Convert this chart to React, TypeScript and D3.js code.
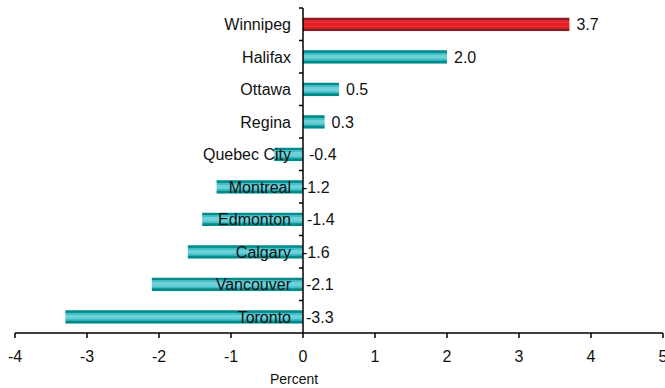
import React from "react";
import * as d3 from "d3";

// Cities, top to bottom, and their percent change
const cities = [
  "Winnipeg",
  "Halifax",
  "Ottawa",
  "Regina",
  "Quebec City",
  "Montreal",
  "Edmonton",
  "Calgary",
  "Vancouver",
  "Toronto",
];
const values = [3.7, 2.0, 0.5, 0.3, -0.4, -1.2, -1.4, -1.6, -2.1, -3.3];
const highlighted = ["Winnipeg"];
const xTicks = [-4, -3, -2, -1, 0, 1, 2, 3, 4, 5];

const W = 665;
const H = 388;
const FONT = "'Liberation Sans', Arial, sans-serif";

// horizontal shift of value labels for the negative bars (px from the zero line)
const negLabelShift: Record<string, number> = {
  "Quebec City": 6,
  Montreal: -1,
  Edmonton: 4,
  Calgary: -1,
  Vancouver: 3,
  Toronto: 3,
};

const teal = ["#008b8b", "#3fbfc6", "#6fd0d8", "#3fbfc6", "#008b8b"];
const red = ["#8e1a1f", "#e41c24", "#ee1c25", "#e41c24", "#8e1a1f"];
// stripe boundaries as fractions of bar height
const stripeStops = [0, 0.2, 0.36, 0.65, 0.8, 1];

const fmt = (v: number) => v.toFixed(1);

export default function App() {
  const x = d3.scaleLinear().domain([-4, 5]).range([15, 663]);
  const y = d3.scaleBand<string>().domain(cities).range([8, 333]).padding(0);
  const step = y.step();
  const barH = step * 0.4;
  const x0 = x(0);
  const axisY = 333;

  return (
    <svg
      width={W}
      height={H}
      style={{ position: "absolute", left: 0, top: 0, background: "#fff" }}
      fontFamily={FONT}
    >
      {/* bars */}
      {cities.map((c, i) => {
        const v = values[i];
        const cy = (y(c) as number) + step / 2;
        const top = cy - barH / 2;
        const left = Math.min(x(v), x0);
        const w = Math.abs(x(v) - x0);
        const cols = highlighted.includes(c) ? red : teal;
        return (
          <g key={c}>
            {cols.map((col, k) => (
              <rect
                key={k}
                x={left}
                y={top + stripeStops[k] * barH}
                width={w}
                height={(stripeStops[k + 1] - stripeStops[k]) * barH + 0.3}
                fill={col}
              />
            ))}
          </g>
        );
      })}

      {/* category labels */}
      {cities.map((c) => {
        const cy = (y(c) as number) + step / 2;
        return (
          <text
            key={c}
            x={x0 - 12}
            y={cy}
            dy="0.36em"
            textAnchor="end"
            fontSize={16}
            fill="#111"
          >
            {c}
          </text>
        );
      })}

      {/* value labels */}
      {cities.map((c, i) => {
        const v = values[i];
        const cy = (y(c) as number) + step / 2;
        const lx = v >= 0 ? x(v) + 7 : x0 + (negLabelShift[c] ?? 4);
        return (
          <text key={c} x={lx} y={cy} dy="0.36em" fontSize={16} fill="#111">
            {fmt(v)}
          </text>
        );
      })}

      {/* vertical axis at zero */}
      <line x1={x0} x2={x0} y1={8} y2={axisY} stroke="#000" strokeWidth={1.5} />
      {d3.range(cities.length).map((i) => {
        const ty = 8 + i * step;
        return (
          <line key={i} x1={x0 - 4} x2={x0} y1={ty} y2={ty} stroke="#000" strokeWidth={1.5} />
        );
      })}

      {/* horizontal axis */}
      <line x1={x(-4)} x2={x(5)} y1={axisY} y2={axisY} stroke="#000" strokeWidth={1.5} />
      {xTicks.map((t) => (
        <g key={t}>
          <line x1={x(t)} x2={x(t)} y1={axisY} y2={axisY + 5} stroke="#000" strokeWidth={1.5} />
          <text x={x(t)} y={axisY + 29} textAnchor="middle" fontSize={16} fill="#111">
            {t}
          </text>
        </g>
      ))}

      <text x={294} y={384} textAnchor="middle" fontSize={14} fill="#111">
        Percent
      </text>
    </svg>
  );
}
